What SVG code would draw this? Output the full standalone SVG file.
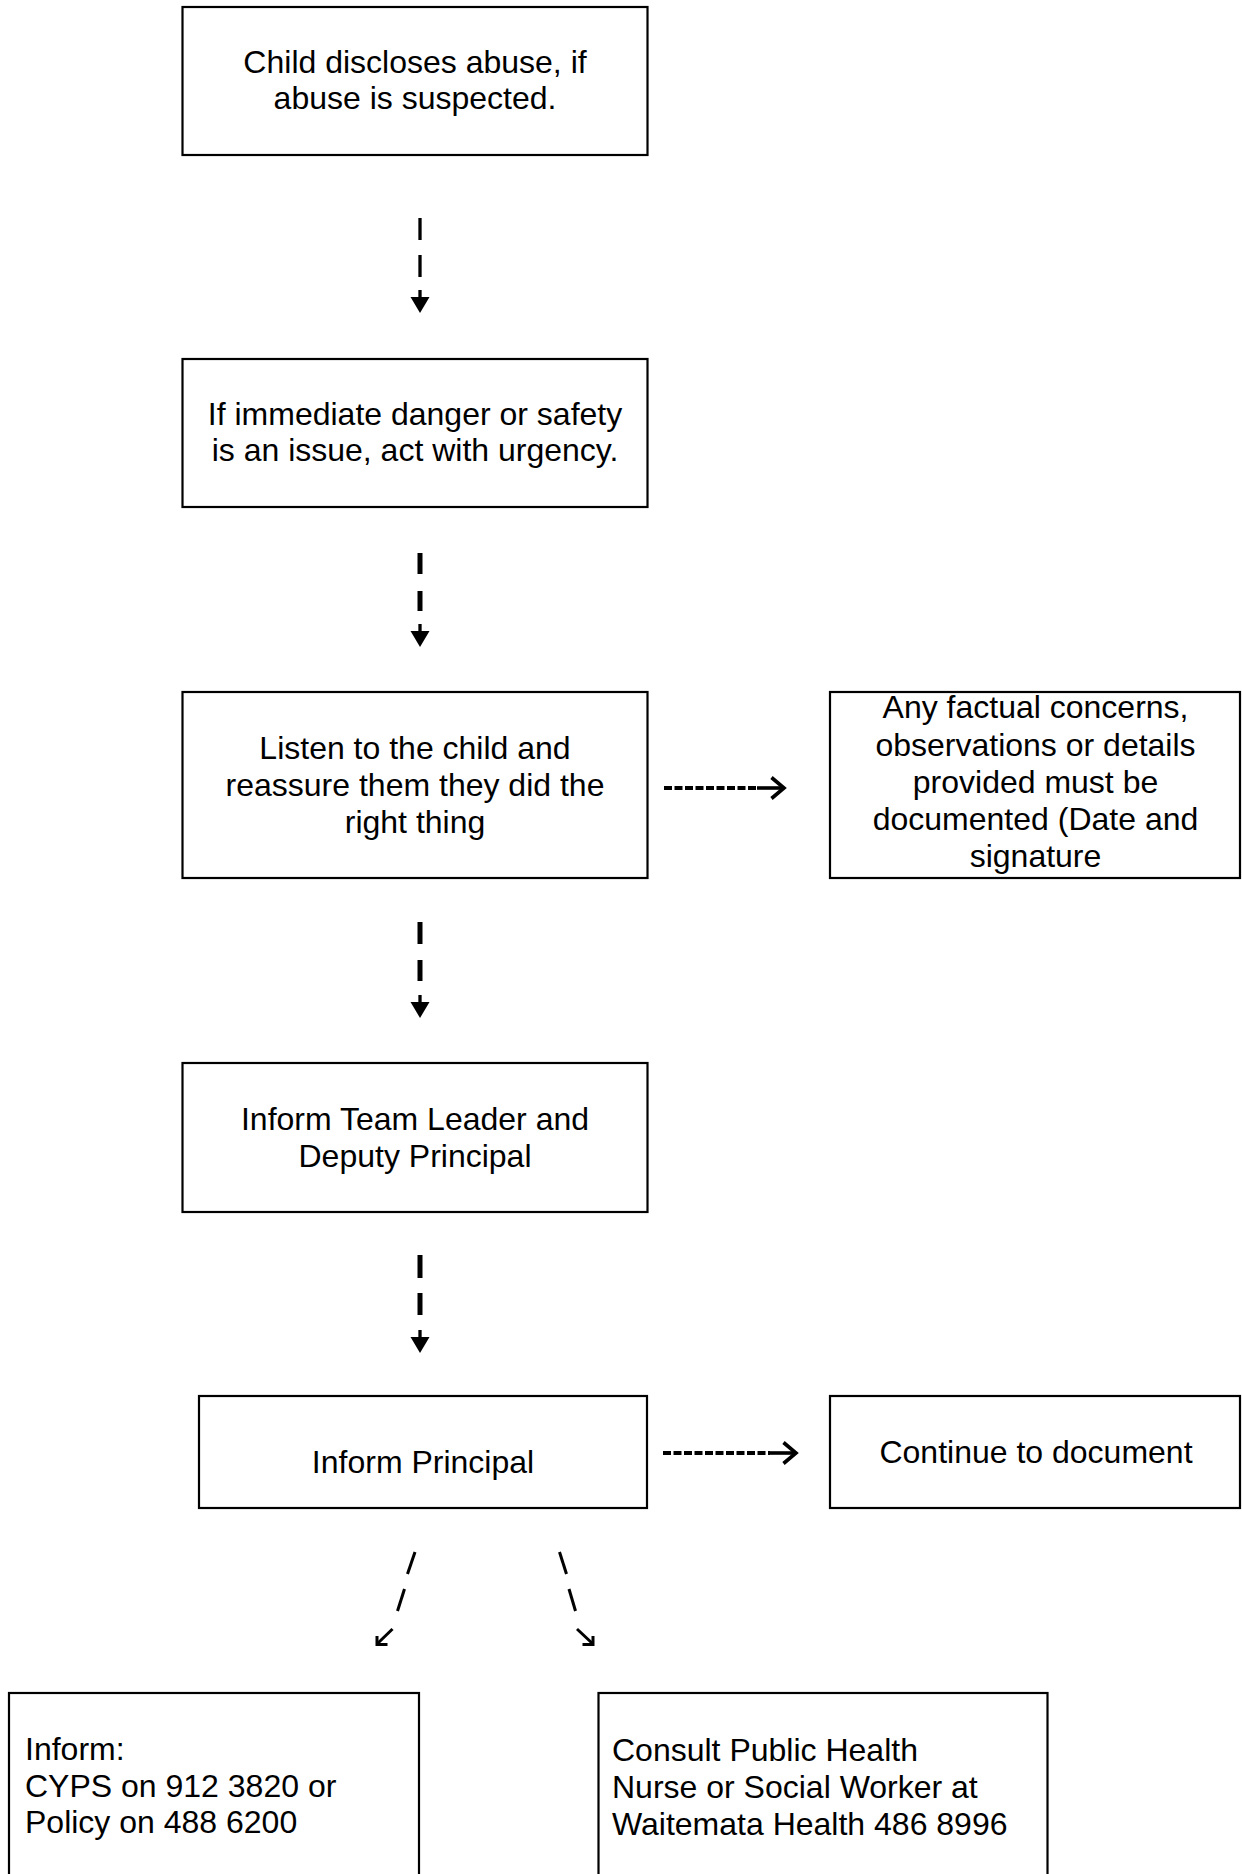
<svg xmlns="http://www.w3.org/2000/svg" width="1242" height="1874" viewBox="0 0 1242 1874">
<style>
.box{fill:#fff;stroke:#000;stroke-width:2.2}
.t{font-family:"Liberation Sans",Arial,sans-serif;font-size:32px;fill:#000}
.c{text-anchor:middle}
.dash{stroke:#000;stroke-width:5;fill:none}
.thin{stroke:#000;stroke-width:3.3;fill:none}
.hd{stroke:#000;stroke-width:3.6;fill:none;stroke-linecap:butt}
.dg{stroke:#000;stroke-width:3;fill:none;stroke-linecap:butt}
.hdash{stroke:#000;stroke-width:3.8;fill:none;stroke-dasharray:8 2.5}
</style>
<defs>
<g id="vhead"><line x1="0" y1="0" x2="0" y2="9" stroke="#000" stroke-width="3.3"/><polygon points="-9.5,7 9.5,7 0,23" fill="#000"/></g>
</defs>
<rect width="1242" height="1874" fill="#fff"/>
<g id="n1"><rect class="box" x="182.5" y="7" width="465" height="148"/><text class="t c" x="415" y="73">Child discloses abuse, if</text><text class="t c" x="415" y="109">abuse is suspected.</text></g>
<g id="n2"><rect class="box" x="182.5" y="359" width="465" height="148"/><text class="t c" x="415" y="425">If immediate danger or safety</text><text class="t c" x="415" y="461">is an issue, act with urgency.</text></g>
<g id="n3"><rect class="box" x="182.5" y="692" width="465" height="186"/><text class="t c" x="415" y="759">Listen to the child and</text><text class="t c" x="415" y="796">reassure them they did the</text><text class="t c" x="415" y="833">right thing</text></g>
<g id="n4"><rect class="box" x="830" y="692" width="410" height="186"/><text class="t c" x="1035.5" y="718">Any factual concerns,</text><text class="t c" x="1035.5" y="756">observations or details</text><text class="t c" x="1035.5" y="793">provided must be</text><text class="t c" x="1035.5" y="830">documented (Date and</text><text class="t c" x="1035.5" y="867">signature</text></g>
<g id="n5"><rect class="box" x="182.5" y="1063" width="465" height="149"/><text class="t c" x="415" y="1130">Inform Team Leader and</text><text class="t c" x="415" y="1167">Deputy Principal</text></g>
<g id="n6"><rect class="box" x="199" y="1396" width="448" height="112"/><text class="t c" x="423" y="1473">Inform Principal</text></g>
<g id="n7"><rect class="box" x="830" y="1396" width="410" height="112"/><text class="t c" x="1036" y="1463">Continue to document</text></g>
<g id="n8"><rect class="box" x="9" y="1693" width="410" height="200"/><text class="t" x="25" y="1760">Inform:</text><text class="t" x="25" y="1797">CYPS on 912 3820 or</text><text class="t" x="25" y="1833">Policy on 488 6200</text></g>
<g id="n9"><rect class="box" x="598.5" y="1693" width="449" height="200"/><text class="t" x="612" y="1761">Consult Public Health</text><text class="t" x="612" y="1798">Nurse or Social Worker at</text><text class="t" x="612" y="1835">Waitemata Health 486 8996</text></g>
<g id="connectors">
<line class="thin" x1="420" y1="218" x2="420" y2="240"/><line class="thin" x1="420" y1="255" x2="420" y2="277"/><use href="#vhead" transform="translate(420,290)"/>
<line class="dash" x1="420" y1="553" x2="420" y2="574"/><line class="dash" x1="420" y1="591" x2="420" y2="611"/><use href="#vhead" transform="translate(420,624)"/>
<line class="dash" x1="420" y1="922" x2="420" y2="944"/><line class="dash" x1="420" y1="960" x2="420" y2="981"/><use href="#vhead" transform="translate(420,995)"/>
<line class="dash" x1="420" y1="1255" x2="420" y2="1278"/><line class="dash" x1="420" y1="1293" x2="420" y2="1315"/><use href="#vhead" transform="translate(420,1330)"/>
<line class="hdash" x1="664" y1="788" x2="758" y2="788"/><line class="hd" x1="757" y1="788" x2="783" y2="788"/><polyline class="hd" points="771.5,777.5 784,788 771.5,798.5"/>
<line class="hdash" x1="663" y1="1453" x2="770" y2="1453"/><line class="hd" x1="769" y1="1453" x2="795" y2="1453"/><polyline class="hd" points="783.5,1442.5 796,1453 783.5,1463.5"/>
<line class="dg" stroke-width="2.8" x1="415" y1="1552" x2="407.5" y2="1574"/><line class="dg" stroke-width="2.8" x1="404.5" y1="1589" x2="397.5" y2="1611"/><line class="dg" x1="392.5" y1="1629" x2="377" y2="1644"/><polyline class="dg" points="377,1636 377,1644.5 387.5,1644.5"/>
<line class="dg" stroke-width="2.8" x1="559.5" y1="1552" x2="566.5" y2="1574"/><line class="dg" stroke-width="3.4" x1="569" y1="1589" x2="575.5" y2="1611"/><line class="dg" x1="577" y1="1629" x2="593" y2="1644"/><polyline class="dg" points="593,1636 593,1644.5 582.5,1644.5"/>
</g>
</svg>
